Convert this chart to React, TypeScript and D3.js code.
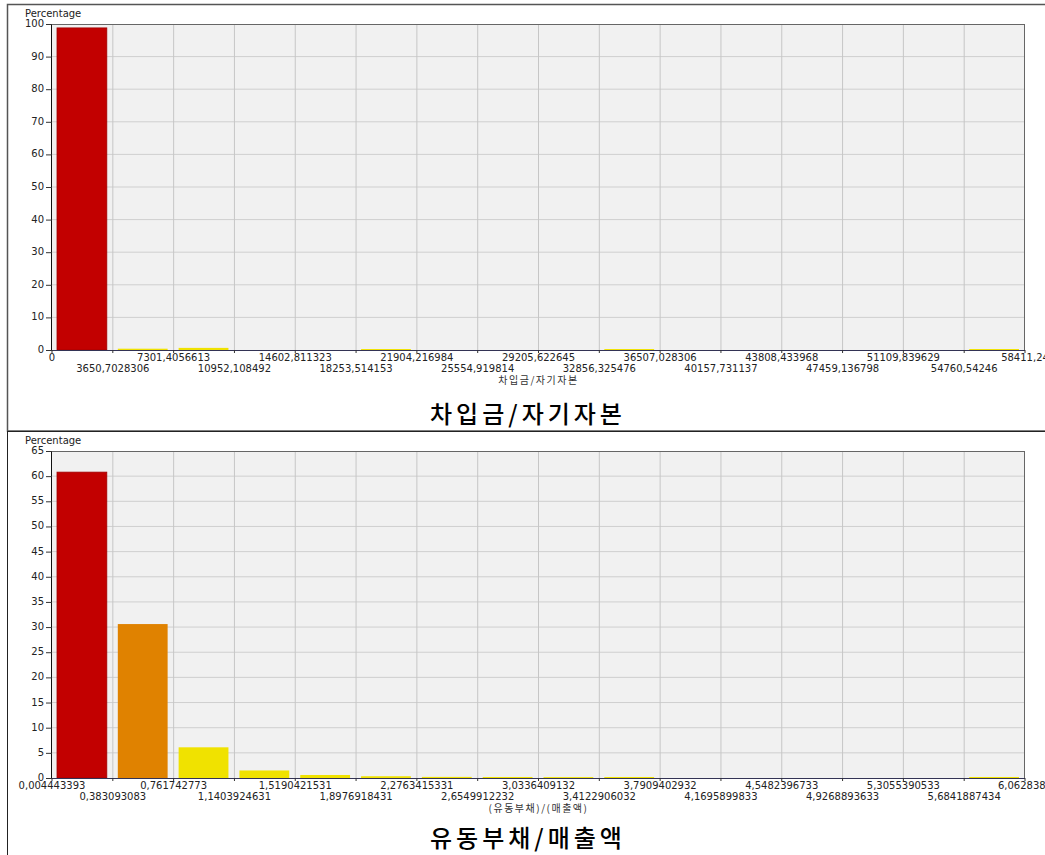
import React from 'react';
import * as d3 from 'd3';

// 차입금/자기자본 histogram: bin edge labels and percentage per bin
const debtEquityTicks = [
    '0', '3650,7028306', '7301,4056613', '10952,108492', '14602,811323',
    '18253,514153', '21904,216984', '25554,919814', '29205,622645', '32856,325476',
    '36507,028306', '40157,731137', '43808,433968', '47459,136798', '51109,839629',
    '54760,54246', '58411,24',
];
const debtEquityValues = [98.8, 0.4, 0.65, 0, 0, 0.3, 0, 0, 0, 0.3, 0, 0, 0, 0, 0, 0.3];

// 유동부채/매출액 histogram
const liabSalesTicks = [
    '0,004443393', '0,383093083', '0,761742773', '1,1403924631', '1,5190421531',
    '1,8976918431', '2,2763415331', '2,6549912232', '3,0336409132', '3,4122906032',
    '3,7909402932', '4,1695899833', '4,5482396733', '4,9268893633', '5,3055390533',
    '5,6841887434', '6,0628384',
];
const liabSalesValues = [60.8, 30.6, 6.1, 1.5, 0.6, 0.35, 0.22, 0.2, 0.18, 0.2, 0, 0, 0, 0, 0, 0.2];

const NUM_FONT = "'DejaVu Sans', sans-serif";
const KR_FONT = "'Noto Sans CJK KR', sans-serif";

const plotLeft = 52;
const plotRight = 1025;

// color of a bar depends on its height
const barColor = d3.scaleThreshold<number, string>()
    .domain([10, 50])
    .range(['#f0e200', '#e08200', '#c20000']);

type HistProps = {
    plotTop: number;
    plotBottom: number;
    yMax: number;
    yStep: number;
    tickLabels: string[];
    values: number[];
    axisTitle: string;
    title: string;
    titleY: number;
};

function Histogram({ plotTop, plotBottom, yMax, yStep, tickLabels, values, axisTitle, title, titleY }: HistProps) {
    const x = d3.scaleLinear().domain([0, values.length]).range([plotLeft, plotRight]);
    const y = d3.scaleLinear().domain([0, yMax]).range([plotBottom, plotTop]);
    const yTicks = d3.range(0, yMax + yStep / 2, yStep);
    const edges = d3.range(0, values.length + 1);
    const midX = (plotLeft + plotRight) / 2;

    return (
        <g>
            {/* plot background */}
            <rect x={plotLeft} y={plotTop} width={plotRight - plotLeft} height={plotBottom - plotTop} fill="#f1f1f1" />

            {/* grid */}
            {yTicks.slice(1, -1).map((t) => (
                <line key={'h' + t} x1={plotLeft} x2={plotRight} y1={y(t)} y2={y(t)} stroke="#cfcfcf" />
            ))}
            {edges.slice(1, -1).map((i) => (
                <line key={'v' + i} x1={x(i)} x2={x(i)} y1={plotTop} y2={plotBottom} stroke="#c6c6c6" />
            ))}

            {/* bars */}
            {values.map((v, i) => v > 0 && (
                <rect
                    key={'b' + i}
                    x={x(i) + 5}
                    y={y(v)}
                    width={x(i + 1) - x(i) - 11}
                    height={plotBottom - y(v)}
                    fill={barColor(v)}
                    stroke={v >= 50 ? '#a00000' : 'none'}
                    strokeWidth={0.8}
                />
            ))}

            {/* frame */}
            <line x1={plotLeft} x2={plotRight} y1={plotTop + 0.5} y2={plotTop + 0.5} stroke="#666" />
            <line x1={plotRight - 0.5} x2={plotRight - 0.5} y1={plotTop} y2={plotBottom} stroke="#666" />
            <line x1={plotLeft - 0.5} x2={plotLeft - 0.5} y1={plotTop} y2={plotBottom} stroke="#111" />
            <line x1={plotLeft} x2={plotRight} y1={plotBottom + 0.5} y2={plotBottom + 0.5} stroke="#333355" />

            {/* y axis */}
            <text x={25} y={plotTop - 7} fontFamily={NUM_FONT} fontSize={10} fill="#222">Percentage</text>
            {yTicks.map((t) => (
                <g key={'yt' + t}>
                    <line x1={plotLeft - 6} x2={plotLeft} y1={y(t) + 0.5} y2={y(t) + 0.5} stroke="#333" />
                    <text x={plotLeft - 8} y={y(t) + 3} textAnchor="end" fontFamily={NUM_FONT} fontSize={10} fill="#222">{t}</text>
                </g>
            ))}

            {/* x axis */}
            {edges.map((i) => (
                <g key={'xt' + i}>
                    <line x1={x(i)} x2={x(i)} y1={plotBottom} y2={plotBottom + 3} stroke="#333" />
                    <text
                        x={x(i)}
                        y={plotBottom + (i % 2 === 0 ? 11 : 22)}
                        textAnchor="middle"
                        fontFamily={NUM_FONT}
                        fontSize={10}
                        fill="#222"
                    >
                        {tickLabels[i]}
                    </text>
                </g>
            ))}
            <text x={midX} y={plotBottom + 34} textAnchor="middle" fontFamily={KR_FONT} fontSize={10} letterSpacing={1.5} fill="#333">{axisTitle}</text>

            {/* big title under the chart */}
            <text x={528} y={titleY} textAnchor="middle" fontFamily={KR_FONT} fontSize={24} fontWeight={500} letterSpacing={4} fill="#000">{title}</text>
        </g>
    );
}

export default function App() {
    return (
        <svg width={1045} height={855} style={{ position: 'absolute', left: 0, top: 0, background: '#fff' }}>
            {/* panel borders */}
            <rect x={7.5} y={4.5} width={1100} height={426.5} fill="none" stroke="#555" strokeWidth={1.5} />
            <rect x={7.5} y={431.5} width={1100} height={500} fill="none" stroke="#222" />

            <Histogram
                plotTop={24}
                plotBottom={350}
                yMax={100}
                yStep={10}
                tickLabels={debtEquityTicks}
                values={debtEquityValues}
                axisTitle="차입금/자기자본"
                title="차입금/자기자본"
                titleY={423}
            />
            <Histogram
                plotTop={451}
                plotBottom={778}
                yMax={65}
                yStep={5}
                tickLabels={liabSalesTicks}
                values={liabSalesValues}
                axisTitle="(유동부채)/(매출액)"
                title="유동부채/매출액"
                titleY={847}
            />
        </svg>
    );
}
